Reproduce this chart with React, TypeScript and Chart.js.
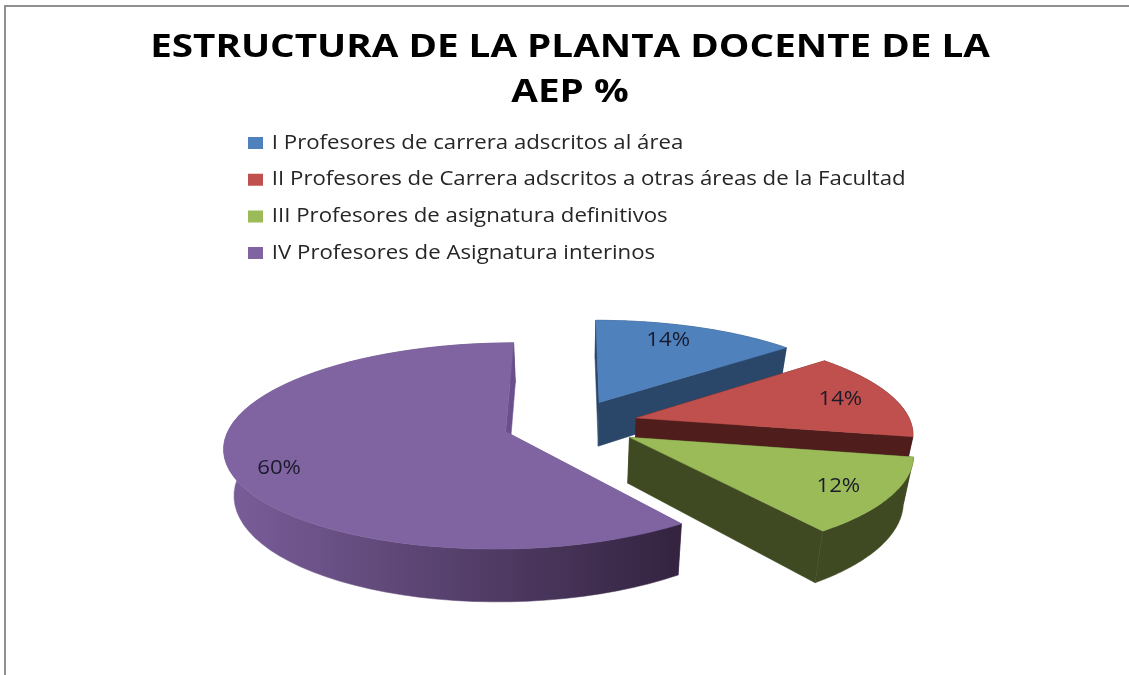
import React, { useEffect, useRef } from "react";
import { Chart, registerables } from "chart.js";

Chart.register(...registerables);

const categories = [
  "I Profesores de carrera adscritos al área",
  "II Profesores de Carrera adscritos a otras áreas de la Facultad",
  "III Profesores de asignatura definitivos",
  "IV Profesores de Asignatura interinos",
];
const values = [14, 14, 12, 60];
const topColors = ["#4F81BD", "#C0504D", "#9BBB59", "#8064A2"];
const wallColors = ["#2A4668", "#4E1D1C", "#3F4A22", "#6A4F8C"];
const outerFrom = ["#2A4668", "#4E1D1C", "#3F4A22", "#7A5E9A"];
const outerTo = ["#2A4668", "#4E1D1C", "#3F4A22", "#33233F"];
const labelFractions = [0.786, 0.8, 0.82, 0.84];
const labelAngleShifts = [-3.2, 0, 0.9, -6.5];
const titleLines = ["ESTRUCTURA DE LA PLANTA DOCENTE DE LA", "AEP %"];

const VIEW = { cx: 571, cy: 424, q: 0.36, d: 2000, r: 275, h: 45, explode: 68, taper: 0.03 };
const TITLE_STRETCH = { origin: 570, sx: 1.17 };
const LEGEND_STRETCH = { origin: 248, sx: 1.11 };

function project(X: number, Y: number, z: number) {
  const s = 1 / (1 - Y / VIEW.d);
  const k = 1 - VIEW.taper * z;
  return { x: VIEW.cx + X * s * k, y: VIEW.cy + VIEW.q * Y * s + VIEW.h * z * s };
}

function sliceGeom(el: any) {
  const a0 = el.startAngle + Math.PI / 2;
  const a1 = el.endAngle + Math.PI / 2;
  const mid = (a0 + a1) / 2;
  const ox = VIEW.explode * Math.sin(mid);
  const oy = -VIEW.explode * Math.cos(mid);
  const at = (a: number, rr: number, z: number) =>
    project(ox + rr * Math.sin(a), oy - rr * Math.cos(a), z);
  return { a0, a1, mid, at };
}

function poly(ctx: CanvasRenderingContext2D, pts: { x: number; y: number }[], fill: any) {
  ctx.beginPath();
  pts.forEach((p, i) => (i ? ctx.lineTo(p.x, p.y) : ctx.moveTo(p.x, p.y)));
  ctx.closePath();
  ctx.fillStyle = fill;
  ctx.strokeStyle = fill;
  ctx.lineWidth = 0.5;
  ctx.fill();
  ctx.stroke();
}

function stretchDraw(box: any, stretch: { origin: number; sx: number }) {
  const orig = box.draw.bind(box);
  box.draw = (...args: any[]) => {
    const ctx = box.ctx;
    ctx.save();
    ctx.translate(stretch.origin, 0);
    ctx.scale(stretch.sx, 1);
    ctx.translate(-stretch.origin, 0);
    orig(...args);
    ctx.restore();
  };
}

const pie3d = {
  id: "pie3d",
  beforeDraw(chart: any) {
    const { ctx } = chart;
    ctx.save();
    ctx.fillStyle = "#ffffff";
    ctx.fillRect(0, 0, chart.width, chart.height);
    ctx.fillStyle = "#909090";
    ctx.fillRect(4, 5, 2, 670);
    ctx.fillRect(4, 5, 1125, 2);
    ctx.restore();
  },
  afterLayout(chart: any) {
    const lg = chart.legend;
    const w = lg.width;
    lg.left = 233.3;
    lg.right = 233.3 + w;
    lg.top = 116.3;
    lg.bottom = 116.3 + lg.height;
    lg.adjustHitBoxes();
    if (!chart.$stretched) {
      chart.$stretched = true;
      stretchDraw(chart.titleBlock, TITLE_STRETCH);
      stretchDraw(lg, LEGEND_STRETCH);
    }
  },
  beforeDatasetDraw(chart: any) {
    const { ctx } = chart;
    const arcs = chart.getDatasetMeta(0).data;
    const n = 64;
    ctx.save();
    arcs.forEach((el: any, i: number) => {
      const { a0, a1, at } = sliceGeom(el);
      const apexT = at(a0, 0, 0);
      const apexB = at(a0, 0, 1);
      poly(ctx, [apexT, at(a0, VIEW.r, 0), at(a0, VIEW.r, 1), apexB], wallColors[i]);
      const topPts: { x: number; y: number }[] = [];
      const botPts: { x: number; y: number }[] = [];
      for (let k = 0; k <= n; k++) {
        const a = a0 + ((a1 - a0) * k) / n;
        topPts.push(at(a, VIEW.r, 0));
        botPts.push(at(a, VIEW.r, 1));
      }
      const xs = topPts.map((p) => p.x);
      const grad = ctx.createLinearGradient(Math.max(...xs), 0, Math.min(...xs), 0);
      grad.addColorStop(0, outerTo[i]);
      grad.addColorStop(1, outerFrom[i]);
      poly(ctx, [...topPts, ...botPts.reverse()], grad);
      poly(ctx, [apexT, at(a1, VIEW.r, 0), at(a1, VIEW.r, 1), apexB], wallColors[i]);
      poly(ctx, [apexT, ...topPts], topColors[i]);
    });
    ctx.fillStyle = "#1a1a2a";
    ctx.font = '20px "Open Sans"';
    ctx.textAlign = "center";
    ctx.textBaseline = "middle";
    arcs.forEach((el: any, i: number) => {
      const { mid, at } = sliceGeom(el);
      const p = at(mid + (labelAngleShifts[i] * Math.PI) / 180, VIEW.r * labelFractions[i], 0);
      ctx.save();
      ctx.translate(p.x, p.y);
      ctx.scale(LEGEND_STRETCH.sx, 1);
      ctx.fillText(values[i] + "%", 0, 0);
      ctx.restore();
    });
    ctx.restore();
    return false;
  },
};

export default function App() {
  const ref = useRef<HTMLCanvasElement | null>(null);
  useEffect(() => {
    document.body.style.margin = "0";
    const chart = new Chart(ref.current as HTMLCanvasElement, {
      type: "pie",
      data: {
        labels: categories,
        datasets: [{ data: values, backgroundColor: topColors, borderWidth: 0 }],
      },
      plugins: [pie3d],
      options: {
        animation: false,
        responsive: false,
        layout: { padding: { left: 11, top: 0 } },
        plugins: {
          tooltip: { enabled: false },
          title: {
            display: true,
            text: titleLines,
            color: "#000000",
            font: { family: '"Open Sans"', size: 33, weight: "bold", lineHeight: 1.36 },
            padding: { top: 25, bottom: 10 },
          },
          legend: {
            position: "left",
            align: "start",
            maxWidth: 760,
            labels: {
              boxWidth: 9.5,
              boxHeight: 8,
              padding: 16.7,
              color: "#262626",
              font: { family: '"Open Sans"', size: 20 },
              generateLabels: () =>
                categories.map((text, i) => ({
                  text,
                  fillStyle: topColors[i],
                  strokeStyle: topColors[i],
                  lineWidth: 4,
                  index: i,
                  fontColor: "#262626",
                })),
            },
          },
        },
      },
    } as any);
    return () => chart.destroy();
  }, []);
  return <canvas ref={ref} width={1129} height={675} style={{ display: "block" }} />;
}
